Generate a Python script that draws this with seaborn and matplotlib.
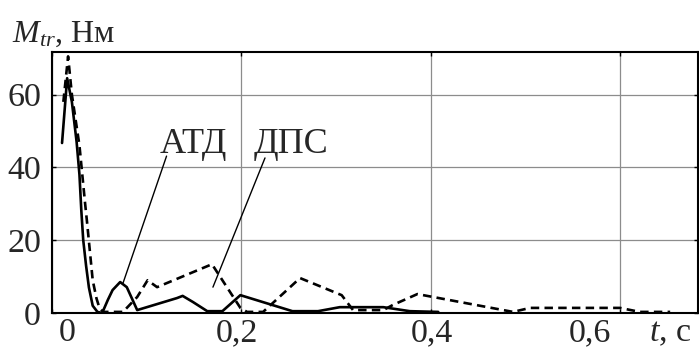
import matplotlib
matplotlib.use("Agg")
import matplotlib.pyplot as plt
import pandas as pd
import seaborn as sns

# Friction torque transients, t in seconds, M_tr in N*m
t_atd = [0.0106, 0.016, 0.021, 0.026, 0.029, 0.031, 0.033, 0.036, 0.039, 0.043,
         0.048, 0.053, 0.059, 0.064, 0.072, 0.079, 0.090, 0.132, 0.138, 0.149,
         0.164, 0.180, 0.199, 0.254, 0.281, 0.304, 0.350, 0.378, 0.408]
m_atd = [46.7, 64.5, 58.0, 47.0, 38.0, 28.0, 20.0, 13.0, 7.0, 2.0,
         0.3, 0.0, 3.6, 6.3, 8.5, 7.1, 0.8, 4.1, 4.7, 3.0,
         0.5, 0.5, 4.9, 0.5, 0.5, 1.6, 1.6, 0.5, 0.3]

t_dps = [0.012, 0.017, 0.021, 0.025, 0.029, 0.032, 0.035, 0.037, 0.040, 0.043,
         0.047, 0.050, 0.054, 0.075, 0.090, 0.101, 0.111, 0.169, 0.199, 0.206,
         0.223, 0.262, 0.306, 0.318, 0.350, 0.360, 0.386, 0.487, 0.505, 0.600,
         0.621, 0.653]
m_dps = [58.0, 70.5, 60.0, 53.0, 46.0, 38.0, 30.0, 25.0, 17.0, 9.0,
         4.0, 1.5, 0.3, 0.3, 4.4, 9.0, 7.1, 13.4, 1.4, 0.3,
         0.3, 9.6, 4.9, 0.8, 0.8, 2.2, 5.2, 0.3, 1.4, 1.4,
         0.3, 0.3]

series_names = ["АТД", "ДПС"]
x_ticks = [0.0, 0.2, 0.4, 0.6]
x_tick_labels = ["0", "0,2", "0,4", "0,6"]
y_ticks = [0, 20, 40, 60]
y_tick_labels = ["0", "20", "40", "60"]
x_label = r"$t$, c"
y_label = r"$M_{tr}$, Нм"

sns.set_theme(style="ticks")
plt.rcParams["font.family"] = ["Liberation Serif", "DejaVu Serif"]
plt.rcParams["mathtext.fontset"] = "custom"
plt.rcParams["mathtext.rm"] = "Liberation Serif"
plt.rcParams["mathtext.it"] = "Liberation Serif:italic"

df_atd = pd.DataFrame({"t": t_atd, "M": m_atd})
df_dps = pd.DataFrame({"t": t_dps, "M": m_dps})

fig = plt.figure(figsize=(6.99, 3.49), dpi=100)
ax = fig.add_axes([52 / 699, 36 / 349, 646 / 699, 261 / 349])

ax.set_xlim(0, 0.6824)
ax.set_ylim(0, 71.7)

ax.grid(True, color="#8c8c8c", linewidth=0.9)
ax.set_axisbelow(True)

sns.lineplot(data=df_atd, x="t", y="M", ax=ax, color="black", lw=1.9,
             sort=False, estimator=None)
sns.lineplot(data=df_dps, x="t", y="M", ax=ax, color="black", lw=1.9,
             sort=False, estimator=None, linestyle=(0, (3.2, 2.0)))

for side in ["left", "right", "top", "bottom"]:
    ax.spines[side].set_color("black")
    ax.spines[side].set_linewidth(1.5)

ax.set_xticks(x_ticks)
ax.set_xticklabels([])
ax.set_yticks(y_ticks)
ax.set_yticklabels(y_tick_labels, fontsize=24.5)
ax.tick_params(direction="in", length=3, width=1, top=True, right=True,
               color="black", pad=8)
ax.set_xlabel("")
ax.set_ylabel("")

# x tick labels sit a little off their grid lines
label_pos = [0.016, 0.195, 0.401, 0.568]
tr = ax.get_xaxis_transform()
base = -28 / 261
for pos, lab in zip(label_pos, x_tick_labels):
    ax.text(pos, base, lab, transform=tr, ha="center", va="baseline",
            fontsize=24.5, clip_on=False)
ax.text(0.653, base, x_label, transform=tr, ha="center", va="baseline",
        fontsize=24.5, clip_on=False)

fig.text(12 / 699, (349 - 42) / 349, y_label, ha="left", va="baseline",
         fontsize=23)

# curve labels with leader lines
ax.text(0.149, 44.0, series_names[0], ha="center", va="baseline", fontsize=26)
ax.text(0.252, 44.0, series_names[1], ha="center", va="baseline", fontsize=26)
ax.annotate("", xy=(0.075, 8.2), xytext=(0.121, 43.1),
            arrowprops=dict(arrowstyle="-", color="black", lw=1.0,
                            shrinkA=0, shrinkB=0))
ax.annotate("", xy=(0.170, 7.1), xytext=(0.225, 42.6),
            arrowprops=dict(arrowstyle="-", color="black", lw=1.0,
                            shrinkA=0, shrinkB=0))

fig.savefig("out.png", dpi=100)
